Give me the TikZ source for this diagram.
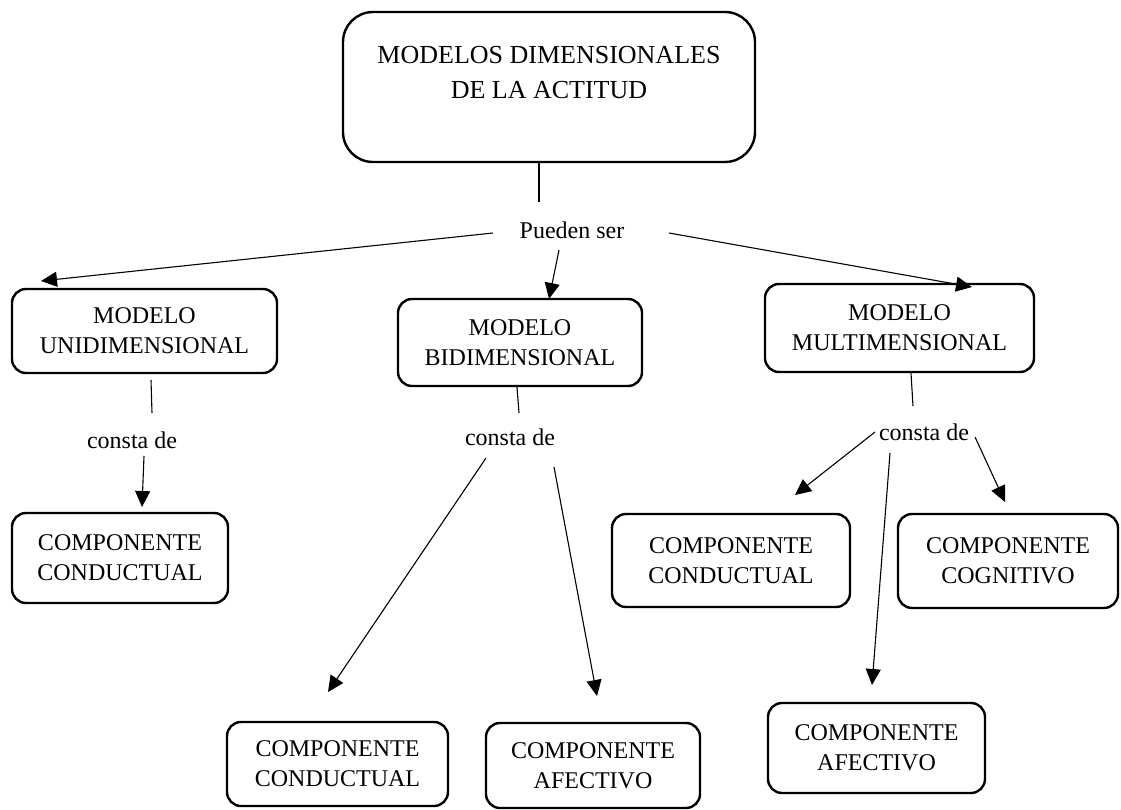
\documentclass[tikz,border=0pt]{standalone}
\usepackage{fontspec}
\setmainfont{Liberation Serif}
\usetikzlibrary{arrows.meta}
\begin{document}
\begin{tikzpicture}[x=1pt,y=-1pt,
  box/.style={draw, line width=2.4pt, rounded corners=14pt, align=center,
    font=\fontsize{24}{30}\selectfont, inner sep=0pt},
  lbl/.style={font=\fontsize{24}{30}\selectfont, inner sep=0pt, anchor=base},
  link/.style={line width=1.1pt},
  arr/.style={line width=1.1pt, -{Triangle[length=16pt,width=15pt]}}]
\useasboundingbox (0,0) rectangle (1121,810);

% title box
\node[box, rounded corners=30pt, minimum width=412pt, minimum height=150pt,
  font=\fontsize{26}{35}\selectfont] (main) at (549,87)
  {MODELOS DIMENSIONALES\\DE LA ACTITUD\\[-5pt]\mbox{}};

% linking words
\node[lbl] (pueden) at (572,239) {Pueden ser};
\node[lbl] (consta1) at (132,448) {consta de};
\node[lbl] (consta2) at (510,445) {consta de};
\node[lbl] (consta3) at (924,440) {consta de};

% models
\node[box, minimum width=265pt, minimum height=84pt] (uni) at (144.5,331)
  {MODELO\\UNIDIMENSIONAL};
\node[box, minimum width=244pt, minimum height=87pt] (bi) at (520,342.5)
  {MODELO\\BIDIMENSIONAL};
\node[box, minimum width=269pt, minimum height=88pt] (multi) at (899.5,328)
  {MODELO\\MULTIMENSIONAL};

% components
\node[box, minimum width=216pt, minimum height=90pt] (c1) at (120,558)
  {COMPONENTE\\CONDUCTUAL};
\node[box, minimum width=221pt, minimum height=84pt] (c2) at (337.5,764)
  {COMPONENTE\\CONDUCTUAL};
\node[box, minimum width=214pt, minimum height=85pt] (c3) at (593,765.5)
  {COMPONENTE\\AFECTIVO};
\node[box, minimum width=238pt, minimum height=93pt] (c4) at (731,560.5)
  {COMPONENTE\\CONDUCTUAL};
\node[box, minimum width=220pt, minimum height=94pt] (c5) at (1008,561)
  {COMPONENTE\\COGNITIVO};
\node[box, minimum width=217pt, minimum height=90pt] (c6) at (876.5,748)
  {COMPONENTE\\AFECTIVO};

% connector ends
\coordinate (m-end) at (539,202);
\coordinate (u-end) at (152,413);
\coordinate (b-end) at (519,413);
\coordinate (t-end) at (913,406);

% title to "Pueden ser"
\draw[link] (main.south -| m-end) -- (m-end);
\draw[arr] (493,233) -- (41,281);
\draw[arr] (559,250) -- (549,299);
\draw[arr] (669,233) -- (972,287);

% models to "consta de"
\draw[link] (151,380) -- (u-end);
\draw[link] (bi.south -| 517,0) -- (b-end);
\draw[link] (multi.south -| 911,0) -- (t-end);

% "consta de" to components
\draw[arr] (144,456) -- (142,507);
\draw[arr] (486,458) -- (328,692);
\draw[arr] (554,467) -- (597,696);
\draw[arr] (875,432) -- (795,495);
\draw[arr] (890,453) -- (872,685);
\draw[arr] (975,437) -- (1005,502);
\end{tikzpicture}
\end{document}
